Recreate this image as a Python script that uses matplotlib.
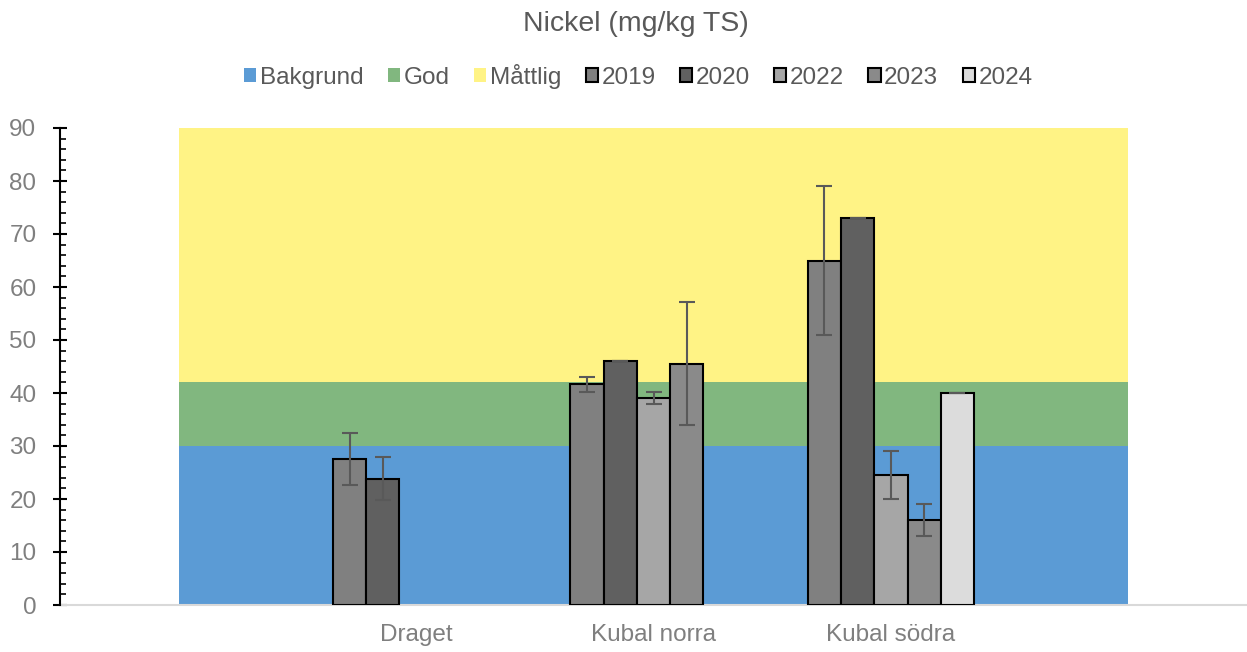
import numpy as np
import matplotlib.pyplot as plt
from matplotlib.patches import Patch

plt.rcParams['font.family'] = ['Liberation Sans', 'DejaVu Sans']

# =================== data ===================
categories = ["", "Draget", "Kubal norra", "Kubal södra", ""]
years = ["2019", "2020", "2022", "2023", "2024"]
year_colors = ["#808080", "#606060", "#a6a6a6", "#8a8a8a", "#dcdcdc"]

# bar values per site (index 1..3), None = no bar
draget      = [27.5, 23.8, None, None, None]
kubal_norra = [41.7, 46.0, 39.0, 45.5, None]
kubal_sodra = [65.0, 73.0, 24.5, 16.0, 40.0]
# error bar ends (low, high)
draget_err      = [(22.6, 32.5), (19.8, 27.9), None, None, None]
kubal_norra_err = [(40.1, 43.1), (46.0, 46.0), (38.0, 40.2), (34.0, 57.2), None]
kubal_sodra_err = [(51.0, 79.1), (73.0, 73.0), (20.0, 29.1), (13.0, 19.0), (40.0, 40.0)]

# classification bands
band_names = ["Bakgrund", "God", "Måttlig"]
band_limits = [30, 42, 90]
band_colors = ["#5b9bd5", "#81b77f", "#fff385"]

# =================== plot ===================
fig = plt.figure(figsize=(12.47, 6.52), dpi=100)
ax = fig.add_axes([60 / 1247, 47 / 652, 1187 / 1247, 477 / 652])

xc = np.arange(len(categories))
lower = 0
for name, lim, col in zip(band_names, band_limits, band_colors):
    ax.fill_between(xc, lower, lim, color=col, lw=0, zorder=1)
    lower = lim

slot = 0.14
sites = [(1, draget, draget_err), (2, kubal_norra, kubal_norra_err), (3, kubal_sodra, kubal_sodra_err)]
for pos, vals, errs in sites:
    for i, (v, e) in enumerate(zip(vals, errs)):
        if v is None:
            continue
        x = pos + (i - 2) * slot
        ax.bar(x, v, width=slot, color=year_colors[i], edgecolor="black", linewidth=1.5, zorder=3)
        if e is not None:
            ax.errorbar(x, v, yerr=[[v - e[0]], [e[1] - v]], fmt="none", ecolor="#595959",
                        elinewidth=1.5, capsize=6, capthick=1.5, zorder=4)

ax.set_xlim(-0.5, 4.5)
ax.set_ylim(0, 90)
ax.set_xticks(xc[1:4])
ax.set_xticklabels(categories[1:4], fontsize=17.5, color="#7f7f7f")
ax.tick_params(axis="x", length=0, pad=14)
ax.set_yticks(np.arange(0, 91, 10))
ax.set_yticks(np.arange(0, 91, 2), minor=True)
ax.tick_params(axis="y", which="major", direction="inout", length=10, width=1.5,
               colors="black", labelcolor="#7f7f7f", labelsize=17.5, pad=12)
ax.tick_params(axis="y", which="minor", direction="in", length=4, width=1.2, colors="black")
for s in ["top", "right"]:
    ax.spines[s].set_visible(False)
ax.spines["left"].set_linewidth(1.5)
ax.spines["left"].set_color("black")
ax.spines["bottom"].set_color("#d9d9d9")
ax.spines["bottom"].set_linewidth(1.5)
ax.spines["left"].set_zorder(5)

fig.text(0.510, 0.963, "Nickel (mg/kg TS)", ha="center", va="center", fontsize=20.5, color="#595959")

handles = [Patch(facecolor=c, edgecolor="none", label=n) for n, c in zip(band_names, band_colors)]
handles += [Patch(facecolor=c, edgecolor="black", linewidth=1.5, label=y) for y, c in zip(years, year_colors)]
fig.legend(handles=handles, loc="center", bbox_to_anchor=(0.512, 0.883), ncol=8, frameon=False,
           fontsize=17.5, labelcolor="#595959", handlelength=0.5, handleheight=0.5,
           handletextpad=0.15, columnspacing=1.0)

fig.savefig("out.png", dpi=100)
